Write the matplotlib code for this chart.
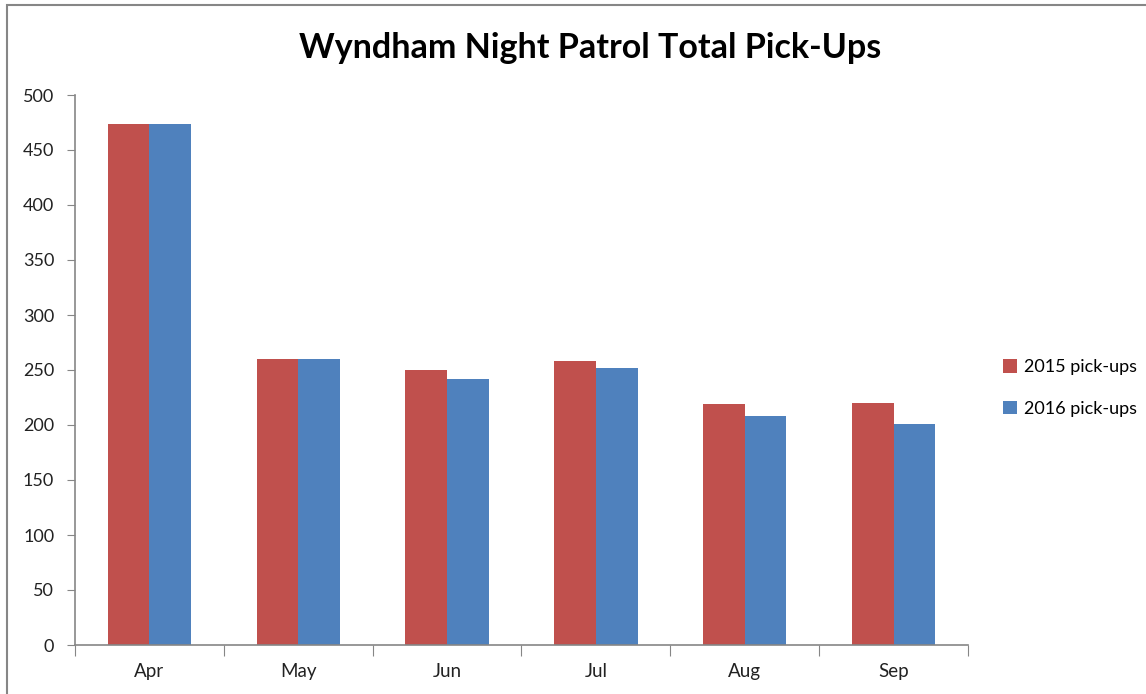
import matplotlib
matplotlib.use("Agg")
import matplotlib.pyplot as plt
from matplotlib.patches import Rectangle
import numpy as np

months = ["Apr", "May", "Jun", "Jul", "Aug", "Sep"]
pickups_2015 = [474, 260, 250, 258, 219, 220]
pickups_2016 = [474, 260, 242, 252, 208, 201]
series_labels = ["2015 pick-ups", "2016 pick-ups"]
yticks = [0, 50, 100, 150, 200, 250, 300, 350, 400, 450, 500]

plt.rcParams['font.family'] = ['Lato', 'DejaVu Sans']

W, H = 1146, 694
fig = plt.figure(figsize=(W / 100, H / 100), dpi=100)
ax = fig.add_axes([75 / W, 1 - 645 / H, (968 - 75) / W, (645 - 95) / H])

x = np.arange(len(months))
bw = 0.28
ax.bar(x - bw / 2, pickups_2015, bw, color="#C0504D", label=series_labels[0])
ax.bar(x + bw / 2, pickups_2016, bw, color="#4F81BD", label=series_labels[1])

ax.set_xlim(-0.5, len(months) - 0.5)
ax.set_ylim(0, 500)
ax.set_yticks(yticks)
ax.set_yticklabels([str(v) for v in yticks], fontsize=13, color="#222222")
ax.set_xticks(np.arange(len(months) + 1) - 0.5)
ax.set_xticklabels([])
ax.set_xticks(x, minor=True)
ax.set_xticklabels(months, minor=True, fontsize=13.5, color="#222222")
ax.tick_params(axis='x', which='major', length=8, color="#868686", direction='out')
ax.tick_params(axis='x', which='minor', length=0, pad=13)
ax.tick_params(axis='y', length=6, color="#868686", direction='out', pad=9)

for s in ["top", "right"]:
    ax.spines[s].set_visible(False)
for s in ["left", "bottom"]:
    ax.spines[s].set_color("#868686")
    ax.spines[s].set_linewidth(1.2)

fig.text(590 / W, 1 - 48 / H, "Wyndham Night Patrol Total Pick-Ups",
         ha="center", va="center", fontsize=24.5, fontweight="bold", color="black")

leg = ax.legend(loc="center left", bbox_to_anchor=(987 / W, 1 - 388 / H),
                bbox_transform=fig.transFigure, frameon=False, fontsize=13,
                handlelength=0.75, handleheight=0.75, handletextpad=0.4, labelspacing=1.4)

fig.patches.append(Rectangle((7 / W, -0.05), 1.2, 1 - 5 / H + 0.05, transform=fig.transFigure,
                             fill=False, edgecolor="#868686", linewidth=1.5))

fig.savefig("out.png", dpi=100)
